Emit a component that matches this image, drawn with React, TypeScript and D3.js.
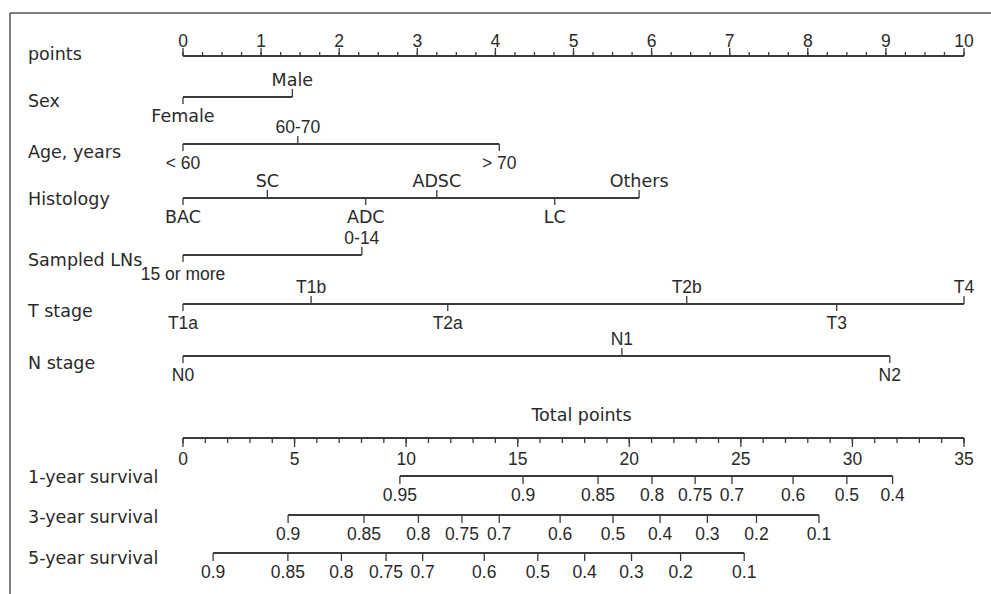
import React from "react";
import * as d3 from "d3";

// ---------- data ----------
const pointsTicks = [0, 1, 2, 3, 4, 5, 6, 7, 8, 9, 10];
const pointsMinorStep = 0.25;

const sexLevels = ["Female", "Male"];
const sexPoints = [0, 1.4];
const ageLevels = ["< 60", "60-70", "> 70"];
const agePoints = [0, 1.47, 4.05];
const histologyLevels = ["BAC", "SC", "ADC", "ADSC", "LC", "Others"];
const histologyPoints = [0, 1.08, 2.34, 3.25, 4.76, 5.84];
const lnLevels = ["15 or more", "0-14"];
const lnPoints = [0, 2.29];
const tLevels = ["T1a", "T1b", "T2a", "T2b", "T3", "T4"];
const tPoints = [0, 1.64, 3.39, 6.45, 8.37, 10];
const nLevels = ["N0", "N1", "N2"];
const nPoints = [0, 5.62, 9.05];

const totalTicks = [0, 5, 10, 15, 20, 25, 30, 35];
const totalMinorStep = 1;

const surv1Labels = ["0.95", "0.9", "0.85", "0.8", "0.75", "0.7", "0.6", "0.5", "0.4"];
const surv1Points = [9.72, 15.24, 18.6, 21.02, 22.95, 24.6, 27.34, 29.75, 31.8];
const surv3Labels = ["0.9", "0.85", "0.8", "0.75", "0.7", "0.6", "0.5", "0.4", "0.3", "0.2", "0.1"];
const surv3Points = [4.71, 8.11, 10.55, 12.5, 14.17, 16.9, 19.27, 21.38, 23.5, 25.7, 28.5];
const surv5Labels = ["0.9", "0.85", "0.8", "0.75", "0.7", "0.6", "0.5", "0.4", "0.3", "0.2", "0.1"];
const surv5Points = [1.35, 4.7, 7.1, 9.1, 10.74, 13.5, 15.9, 18.0, 20.1, 22.3, 25.15];

// ---------- layout ----------
const W = 991;
const H = 594;
const X0 = 183;
const X1 = 964;
const NAME_X = 28;
const INK = "#2a2a2a";
const LINE = "#3a3a3a";
const WORD_FONT = "'DejaVu Sans', sans-serif";
const NUM_FONT = "'Liberation Sans', Arial, sans-serif";

const xPts = d3.scaleLinear().domain([0, 10]).range([X0, X1]);
const xTot = d3.scaleLinear().domain([0, 35]).range([X0, X1]);

const hasDigit = (s: string) => /\d/.test(s);

type VarRow = { name: string; levels: string[]; pts: number[]; y: number; nameY: number };
const varRows: VarRow[] = [
  { name: "Sex", levels: sexLevels, pts: sexPoints, y: 97, nameY: 107 },
  { name: "Age, years", levels: ageLevels, pts: agePoints, y: 144, nameY: 158 },
  { name: "Histology", levels: histologyLevels, pts: histologyPoints, y: 198, nameY: 205 },
  { name: "Sampled LNs", levels: lnLevels, pts: lnPoints, y: 255, nameY: 266 },
  { name: "T stage", levels: tLevels, pts: tPoints, y: 304, nameY: 317 },
  { name: "N stage", levels: nLevels, pts: nPoints, y: 356, nameY: 369 },
];

type SurvRow = { name: string; labels: string[]; pts: number[]; y: number; nameY: number };
const survRows: SurvRow[] = [
  { name: "1-year survival", labels: surv1Labels, pts: surv1Points, y: 476, nameY: 483 },
  { name: "3-year survival", labels: surv3Labels, pts: surv3Points, y: 515, nameY: 523 },
  { name: "5-year survival", labels: surv5Labels, pts: surv5Points, y: 553, nameY: 564 },
];

const POINTS_Y = 56;
const TOTAL_Y = 438;

function Name({ text, y }: { text: string; y: number }) {
  return (
    <text x={NAME_X} y={y} fontFamily={WORD_FONT} fontSize={17.5} fill={INK}>
      {text}
    </text>
  );
}

function LevelLabel({ text, x, y }: { text: string; x: number; y: number }) {
  const num = hasDigit(text);
  return (
    <text
      x={x}
      y={y}
      textAnchor="middle"
      fontFamily={num ? NUM_FONT : WORD_FONT}
      fontSize={17.5}
      fill={INK}
    >
      {text}
    </text>
  );
}

export default function App() {
  const ptsMinor = d3.range(0, 10 + 1e-9, pointsMinorStep);
  const totMinor = d3.range(0, 35 + 1e-9, totalMinorStep);

  return (
    <svg
      width={W}
      height={H}
      viewBox={`0 0 ${W} ${H}`}
      style={{ position: "absolute", left: 0, top: 0, display: "block", background: "#fff" }}
    >
      {/* frame */}
      <line x1={10} y1={13} x2={W} y2={13} stroke="#555" strokeWidth={1.5} />
      <line x1={10} y1={13} x2={10} y2={H} stroke="#555" strokeWidth={1.5} />

      {/* points axis */}
      <Name text="points" y={60} />
      <line x1={xPts(0)} y1={POINTS_Y} x2={xPts(10)} y2={POINTS_Y} stroke={LINE} strokeWidth={2} />
      {ptsMinor.map((v, i) => (
        <line key={"pm" + i} x1={xPts(v)} x2={xPts(v)} y1={POINTS_Y} y2={POINTS_Y - 4} stroke={LINE} strokeWidth={1.3} />
      ))}
      {pointsTicks.map((v) => (
        <g key={"pt" + v}>
          <line x1={xPts(v)} x2={xPts(v)} y1={POINTS_Y} y2={POINTS_Y - 8} stroke={LINE} strokeWidth={1.3} />
          <text x={xPts(v)} y={POINTS_Y - 9.5} textAnchor="middle" fontFamily={NUM_FONT} fontSize={17.5} fill={INK}>
            {v}
          </text>
        </g>
      ))}

      {/* variable rows */}
      {varRows.map((r) => {
        const order = d3.range(r.pts.length).sort((a, b) => r.pts[a] - r.pts[b]);
        const [lo, hi] = d3.extent(r.pts) as [number, number];
        return (
          <g key={r.name}>
            <Name text={r.name} y={r.nameY} />
            <line x1={xPts(lo)} x2={xPts(hi)} y1={r.y} y2={r.y} stroke={LINE} strokeWidth={2} />
            {order.map((idx, rank) => {
              const above = rank % 2 === 1;
              const x = xPts(r.pts[idx]);
              return (
                <g key={r.levels[idx]}>
                  <line x1={x} x2={x} y1={r.y} y2={above ? r.y - 8 : r.y + 7} stroke={LINE} strokeWidth={1.3} />
                  <LevelLabel text={r.levels[idx]} x={x} y={above ? r.y - 11 : r.y + 25} />
                </g>
              );
            })}
          </g>
        );
      })}

      {/* total points axis */}
      <text x={(X0 + X1) / 2 + 8} y={421} textAnchor="middle" fontFamily={WORD_FONT} fontSize={17.5} fill={INK}>
        Total points
      </text>
      <line x1={xTot(0)} x2={xTot(35)} y1={TOTAL_Y} y2={TOTAL_Y} stroke={LINE} strokeWidth={2} />
      {totMinor.map((v, i) => (
        <line key={"tm" + i} x1={xTot(v)} x2={xTot(v)} y1={TOTAL_Y} y2={TOTAL_Y + 5} stroke={LINE} strokeWidth={1.3} />
      ))}
      {totalTicks.map((v) => (
        <g key={"tt" + v}>
          <line x1={xTot(v)} x2={xTot(v)} y1={TOTAL_Y} y2={TOTAL_Y + 9} stroke={LINE} strokeWidth={1.3} />
          <text x={xTot(v)} y={TOTAL_Y + 27} textAnchor="middle" fontFamily={NUM_FONT} fontSize={17.5} fill={INK}>
            {v}
          </text>
        </g>
      ))}

      {/* survival rows */}
      {survRows.map((r) => {
        const [lo, hi] = d3.extent(r.pts) as [number, number];
        return (
          <g key={r.name}>
            <Name text={r.name} y={r.nameY} />
            <line x1={xTot(lo)} x2={xTot(hi)} y1={r.y} y2={r.y} stroke={LINE} strokeWidth={2} />
            {r.pts.map((p, i) => (
              <g key={r.labels[i]}>
                <line x1={xTot(p)} x2={xTot(p)} y1={r.y} y2={r.y + 8} stroke={LINE} strokeWidth={1.3} />
                <text x={xTot(p)} y={r.y + 25} textAnchor="middle" fontFamily={NUM_FONT} fontSize={17.5} fill={INK}>
                  {r.labels[i]}
                </text>
              </g>
            ))}
          </g>
        );
      })}
    </svg>
  );
}
